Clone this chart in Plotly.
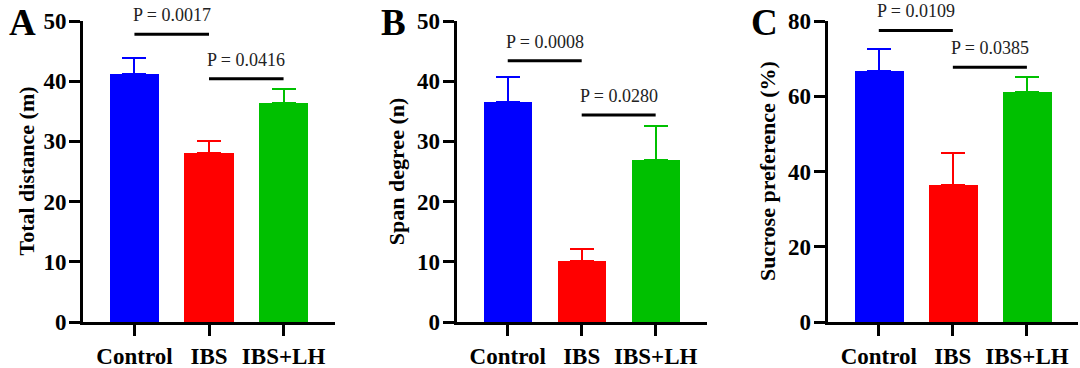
import plotly.graph_objects as go

categories = ["Control", "IBS", "IBS+LH"]
colors = ["#0000FF", "#FF0000", "#00C000"]

# Panel A: Total distance (m)
a_values = [41.2, 28.0, 36.4]
a_err = [2.6, 2.0, 2.3]
a_sig_y = [47.8, 40.4]
a_sig_text = ["P = 0.0017", "P = 0.0416"]

# Panel B: Span degree (n)
b_values = [36.6, 10.2, 26.9]
b_err = [4.1, 2.0, 5.7]
b_sig_y = [43.4, 34.4]
b_sig_text = ["P = 0.0008", "P = 0.0280"]

# Panel C: Sucrose preference (%)
c_values = [66.7, 36.4, 61.1]
c_err = [5.8, 8.5, 4.1]
c_sig_y = [77.5, 67.7]
c_sig_text = ["P = 0.0109", "P = 0.0385"]

y_titles = ["Total distance (m)", "Span degree (n)", "Sucrose preference (%)"]
panel_letters = ["A", "B", "C"]
y_ranges = [[0, 50], [0, 50], [0, 80]]
y_dtick = [10, 10, 20]

W, H = 1080, 368
x_domains_px = [(83, 335), (456.7, 706.7), (827.7, 1078)]
y_domain_px = (322, 21)
title_x_px = [26, 396.7, 767.5]
letter_x_px = [22.5, 393, 764]

SERIF = "Liberation Serif, Times New Roman, serif"

fig = go.Figure()
panels = [
    (a_values, a_err, a_sig_y, a_sig_text),
    (b_values, b_err, b_sig_y, b_sig_text),
    (c_values, c_err, c_sig_y, c_sig_text),
]

x_idx = list(range(len(categories)))
for i, (vals, errs, sig_y, sig_text) in enumerate(panels):
    ax = "" if i == 0 else str(i + 1)
    for j in x_idx:
        fig.add_trace(go.Bar(
            x=[j], y=[vals[j]],
            width=0.66,
            marker=dict(color=colors[j], line=dict(width=0)),
            error_y=dict(type="data", symmetric=False, array=[errs[j]], arrayminus=[0],
                         color=colors[j], thickness=2, width=12),
            xaxis="x" + ax, yaxis="y" + ax, showlegend=False,
        ))
    # significance lines
    for k in range(2):
        fig.add_shape(type="line", xref="x" + ax, yref="y" + ax,
                      x0=x_idx[k], x1=x_idx[k + 1], y0=sig_y[k], y1=sig_y[k],
                      line=dict(color="black", width=3))
        fig.add_annotation(xref="x" + ax, yref="y" + ax,
                           x=(x_idx[k] + x_idx[k + 1]) / 2, y=sig_y[k],
                           text=sig_text[k], showarrow=False,
                           yanchor="middle", yshift=19,
                           font=dict(family=SERIF, size=18, color="#222222"))
    d0 = x_domains_px[i][0] / W
    d1 = x_domains_px[i][1] / W
    axis_common = dict(showline=True, linecolor="black", linewidth=3,
                       ticks="outside", ticklen=11, tickwidth=3, tickcolor="black",
                       showgrid=False, zeroline=False, automargin=False,
                       tickfont=dict(family=SERIF, size=23, color="black", weight="bold"))
    fig.update_layout(**{
        "xaxis" + ax: dict(domain=[d0, d1], range=[-0.69, 2.69],
                           tickvals=x_idx, ticktext=categories,
                           anchor="y" + ax, fixedrange=True, **axis_common),
        "yaxis" + ax: dict(domain=[(H - y_domain_px[0]) / H, (H - y_domain_px[1]) / H],
                           range=y_ranges[i], dtick=y_dtick[i], ticklabelstandoff=-2,
                           anchor="x" + ax, fixedrange=True, **axis_common),
    })
    fig.add_annotation(xref="paper", yref="paper",
                       x=title_x_px[i] / W, y=(H - (y_domain_px[0] + y_domain_px[1]) / 2) / H,
                       text=y_titles[i], textangle=-90, showarrow=False,
                       xanchor="center", yanchor="middle",
                       font=dict(family=SERIF, size=22, color="black", weight="bold"))
    fig.add_annotation(xref="paper", yref="paper",
                       x=letter_x_px[i] / W, y=1,
                       text=panel_letters[i], showarrow=False,
                       xanchor="center", yanchor="top",
                       font=dict(family=SERIF, size=37, color="black", weight="bold"))

fig.update_layout(width=W, height=H, margin=dict(l=0, r=0, t=0, b=0),
                  plot_bgcolor="white", paper_bgcolor="white", bargap=0)

fig.write_html("out.html", config={"displayModeBar": False},
               post_script="document.body.style.margin='0';document.body.style.overflow='hidden';")
